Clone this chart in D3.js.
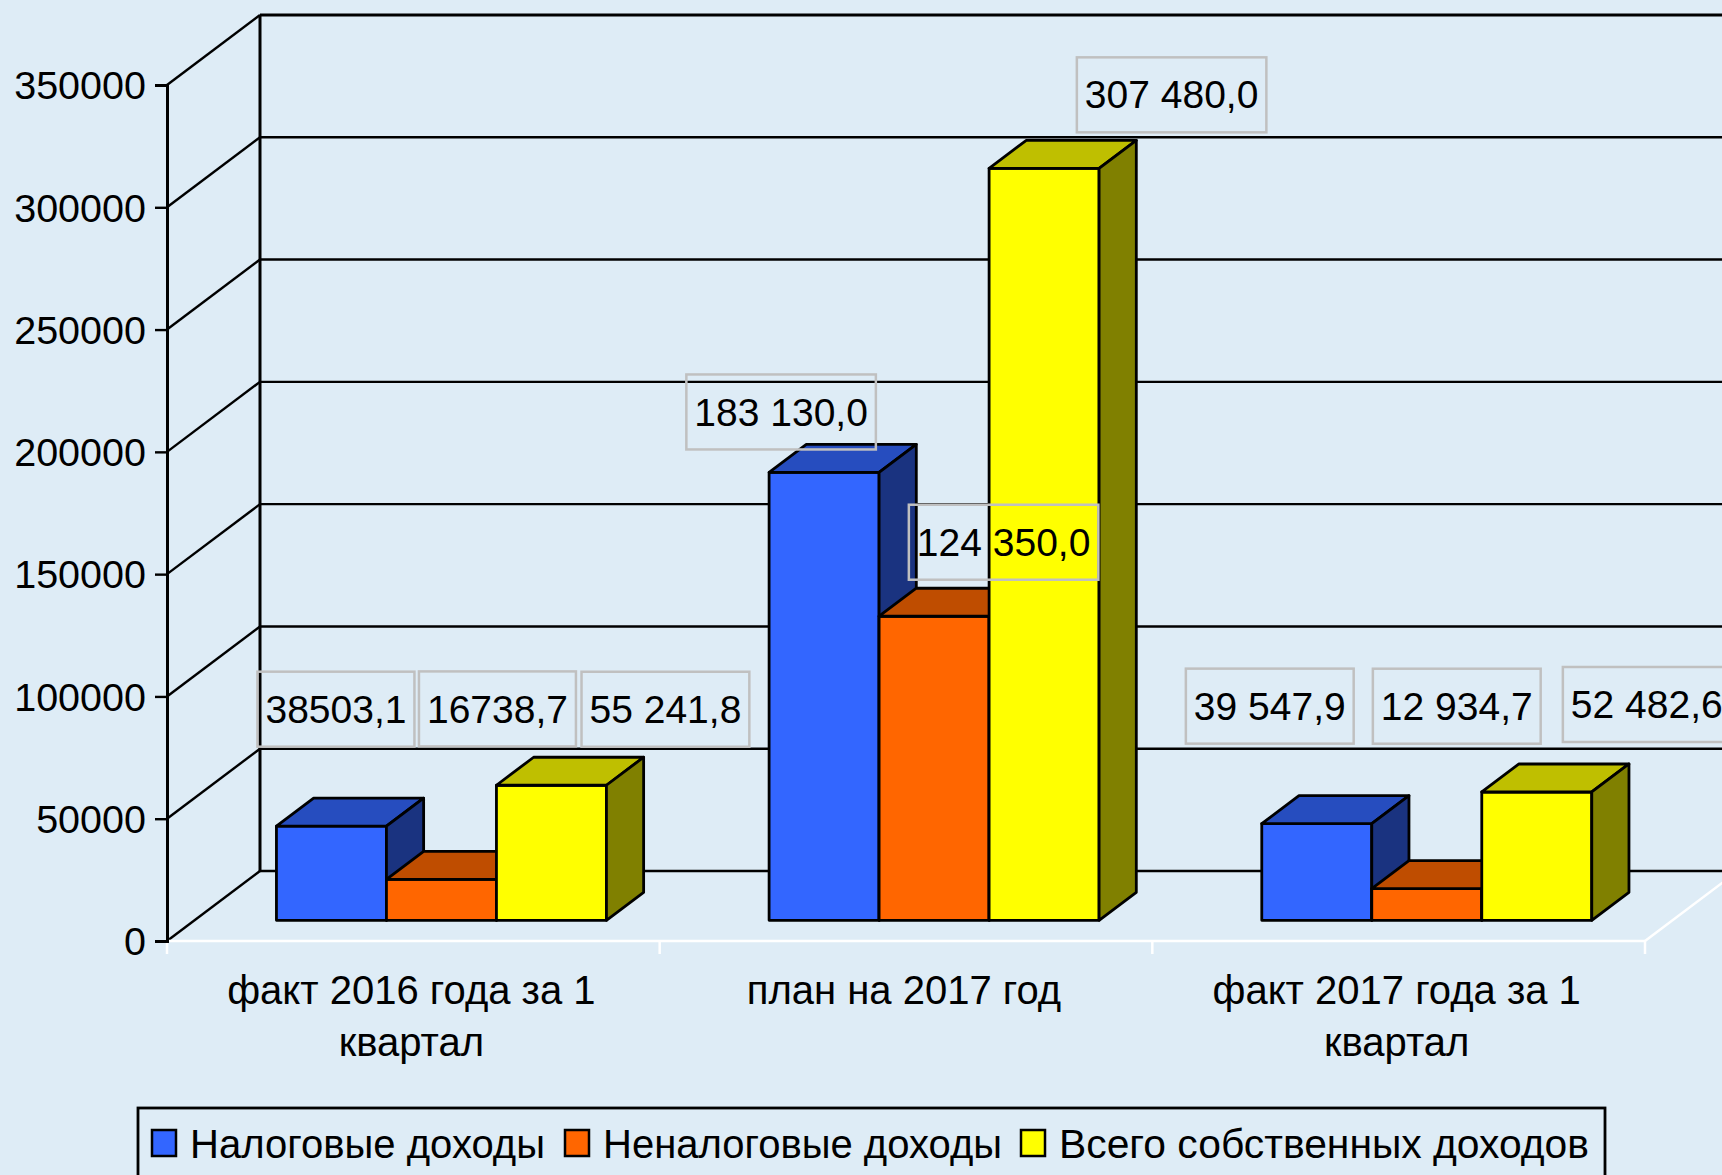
<!DOCTYPE html>
<html>
<head>
<meta charset="utf-8">
<script src="https://d3js.org/d3.v7.min.js"></script>
<style>
  html, body { margin: 0; padding: 0; background: #deecf6; overflow: hidden; }
  svg { display: block; font-family: "Liberation Sans", Arial, sans-serif; }
  text { fill: #000; }
</style>
</head>
<body>
<svg class="chart" width="1722" height="1175"></svg>
<script>
// chart data
var categories = ["факт 2016 года за 1 квартал", "план на 2017 год", "факт 2017 года за 1 квартал"];
var seriesNames = ["Налоговые доходы", "Неналоговые доходы", "Всего собственных доходов"];
var taxIncome = [38503.1, 183130.0, 39547.9];
var nonTaxIncome = [16738.7, 124350.0, 12934.7];
var totalIncome = [55241.8, 307480.0, 52482.6];
var yTicks = [0, 50000, 100000, 150000, 200000, 250000, 300000, 350000];

// labels are written differently per cell in the original
var taxLabels = ["38503,1", "183 130,0", "39 547,9"];
var nonTaxLabels = ["16738,7", "124 350,0", "12 934,7"];
var totalLabels = ["55 241,8", "307 480,0", "52 482,6"];

var seriesValues = [taxIncome, nonTaxIncome, totalIncome];
var seriesLabels = [taxLabels, nonTaxLabels, totalLabels];

// faces: front, top, side
var faceColors = [
  ["#3366ff", "#264dbf", "#1a3380"],
  ["#ff6600", "#bf4d00", "#803300"],
  ["#ffff00", "#bfbf00", "#808000"]
];

// hand placed label boxes, offset from the top centre of each bar [dx, dy], by series then category
var labelOffsets = [
  [[4.5, -117], [-43, -60.5], [-47, -117.5]],
  [[56, -170.5], [69.5, -74], [30, -182.5]],
  [[114, -76], [127.5, -73.5], [110, -87.5]]
];

var fontSize = 39;
var wideFontSize = 40; // category and legend text runs a bit wider in the original

// scales
var x0 = d3.scaleBand().domain(categories).range([167, 1645]);
var x1 = d3.scaleBand().domain(seriesNames).range([82, 412]);
var y = d3.scaleLinear().domain([0, 350000]).range([941, 85]);

// depth goes from 0 (front of the box) to 1 (back wall)
var depthX = 93, depthY = 70;
var barFront = 0.295, barBack = 0.695;

function project(px, value, depth) {
  return [px + depth * depthX, y(value) - depth * depthY];
}

var xStart = x0.range()[0], xEnd = x0.range()[1];
var svg = d3.select(".chart");

// back wall and left wall
var walls = svg.append("g").attr("stroke", "#000").attr("stroke-width", 2.4).attr("fill", "none");

walls.selectAll(".grid")
  .data(yTicks)
  .enter().append("line")
    .attr("class", "grid")
    .attr("x1", project(xStart, 0, 1)[0])
    .attr("x2", project(xEnd, 0, 1)[0])
    .attr("y1", function(d) { return project(xStart, d, 1)[1]; })
    .attr("y2", function(d) { return project(xStart, d, 1)[1]; })
    .attr("stroke-width", function(d) { return d === 350000 ? 3 : 2.4; });

walls.selectAll(".diag")
  .data(yTicks)
  .enter().append("line")
    .attr("class", "diag")
    .attr("x1", xStart)
    .attr("y1", function(d) { return y(d); })
    .attr("x2", project(xStart, 0, 1)[0])
    .attr("y2", function(d) { return project(xStart, d, 1)[1]; });

walls.append("line")
  .attr("x1", project(xStart, 0, 1)[0]).attr("x2", project(xStart, 0, 1)[0])
  .attr("y1", project(xStart, 350000, 1)[1]).attr("y2", project(xStart, 0, 1)[1])
  .attr("stroke-width", 3);

// floor edge is white
var floor = svg.append("g").attr("stroke", "#fff").attr("stroke-width", 2.5).attr("fill", "none");

floor.append("line")
  .attr("x1", xStart).attr("x2", xEnd)
  .attr("y1", y(0)).attr("y2", y(0));

floor.append("line")
  .attr("x1", xEnd).attr("y1", y(0))
  .attr("x2", project(xEnd, 0, 1)[0]).attr("y2", project(xEnd, 0, 1)[1]);

floor.selectAll(".edge")
  .data(categories)
  .enter().append("line")
    .attr("class", "edge")
    .attr("x1", function(d) { return x0(d) + x0.bandwidth(); })
    .attr("x2", function(d) { return x0(d) + x0.bandwidth(); })
    .attr("y1", y(0))
    .attr("y2", y(0) + 13);

floor.append("line")
  .attr("x1", xStart).attr("x2", xStart)
  .attr("y1", y(0)).attr("y2", y(0) + 13);

// y axis
var yAxis = d3.axisLeft(y)
  .tickValues(yTicks)
  .tickFormat(d3.format("d"))
  .tickSize(12)
  .tickPadding(9);

var yAxisG = svg.append("g")
  .attr("transform", "translate(" + xStart + ",0)")
  .call(yAxis);

yAxisG.selectAll("text").style("font-size", "39.5px").style("font-family", "inherit").attr("dy", "0.35em");
yAxisG.selectAll("line").attr("stroke", "#000").attr("stroke-width", 2.4);
yAxisG.select(".domain").attr("stroke", "#000").attr("stroke-width", 3);

// x axis labels
var xAxis = d3.axisBottom(x0).tickSize(0).tickPadding(0);

var xAxisG = svg.append("g")
  .attr("transform", "translate(-2,1004)")
  .call(xAxis);

xAxisG.select(".domain").remove();
xAxisG.selectAll("text")
  .attr("dy", 0)
  .style("font-size", wideFontSize + "px")
  .style("font-family", "inherit")
  .call(wrap, x0.bandwidth());

function wrap(text, width) {
  text.each(function() {
    var t = d3.select(this),
        words = t.text().split(" "),
        line = [],
        tspan = t.text(null).append("tspan").attr("x", 0).attr("y", 0),
        row = 0;
    words.forEach(function(word) {
      line.push(word);
      tspan.text(line.join(" "));
      if (tspan.node().getComputedTextLength() > width && line.length > 1) {
        line.pop();
        tspan.text(line.join(" "));
        line = [word];
        row++;
        tspan = t.append("tspan").attr("x", 0).attr("y", row * 52).text(word);
      }
    });
  });
}

// bars, drawn left to right so that each one covers its neighbour properly
var bars = [];
categories.forEach(function(cat, c) {
  seriesNames.forEach(function(name, s) {
    bars.push({cat: cat, c: c, name: name, s: s, value: seriesValues[s][c]});
  });
});

function pathOf(points) {
  return "M" + points.map(function(p) { return p.join(","); }).join("L") + "Z";
}

var barG = svg.selectAll(".bar")
  .data(bars)
  .enter().append("g")
    .attr("class", "bar")
    .attr("stroke", "#000")
    .attr("stroke-width", 2.8)
    .attr("stroke-linejoin", "round");

barG.append("path")
  .attr("fill", function(d) { return faceColors[d.s][0]; })
  .attr("d", function(d) {
    var l = x0(d.cat) + x1(d.name), r = l + x1.bandwidth();
    return pathOf([project(l, 0, barFront), project(r, 0, barFront), project(r, d.value, barFront), project(l, d.value, barFront)]);
  });

barG.append("path")
  .attr("fill", function(d) { return faceColors[d.s][1]; })
  .attr("d", function(d) {
    var l = x0(d.cat) + x1(d.name), r = l + x1.bandwidth();
    return pathOf([project(l, d.value, barFront), project(r, d.value, barFront), project(r, d.value, barBack), project(l, d.value, barBack)]);
  });

barG.append("path")
  .attr("fill", function(d) { return faceColors[d.s][2]; })
  .attr("d", function(d) {
    var r = x0(d.cat) + x1(d.name) + x1.bandwidth();
    return pathOf([project(r, 0, barFront), project(r, 0, barBack), project(r, d.value, barBack), project(r, d.value, barFront)]);
  });

// value labels with grey boxes
var labelG = svg.selectAll(".label")
  .data(bars)
  .enter().append("g")
    .attr("class", "label")
    .attr("transform", function(d) {
      var off = labelOffsets[d.s][d.c];
      var p = project(x0(d.cat) + x1(d.name) + x1.bandwidth() / 2, d.value, barFront);
      return "translate(" + (p[0] + off[0]) + "," + (p[1] + off[1]) + ")";
    });

labelG.append("text")
  .attr("text-anchor", "middle")
  .attr("dy", "0.35em")
  .style("font-size", fontSize + "px")
  .text(function(d) { return seriesLabels[d.s][d.c]; });

labelG.insert("rect", "text")
  .attr("fill", "none")
  .attr("stroke", "#c0c0c0")
  .attr("stroke-width", 2.5)
  .attr("y", -37.5)
  .attr("height", 75)
  .attr("x", function() { return -(this.parentNode.querySelector("text").getComputedTextLength() + 16) / 2; })
  .attr("width", function() { return this.parentNode.querySelector("text").getComputedTextLength() + 16; });

// legend, its bottom edge runs off the page in the original
var legendKeyX = [152, 565, 1021];
var legendTextWidth = [355, 399, 530];
var legend = svg.append("g");

legend.append("rect")
  .attr("x", 138).attr("y", 1108)
  .attr("width", 1467).attr("height", 90)
  .attr("fill", "none")
  .attr("stroke", "#000")
  .attr("stroke-width", 2.8);

var legendItem = legend.selectAll(".item")
  .data(seriesNames)
  .enter().append("g")
    .attr("class", "item")
    .attr("transform", function(d, i) { return "translate(" + legendKeyX[i] + ",1130)"; });

legendItem.append("rect")
  .attr("width", 24).attr("height", 26)
  .attr("fill", function(d, i) { return faceColors[i][0]; })
  .attr("stroke", "#000")
  .attr("stroke-width", 2.5);

legendItem.append("text")
  .attr("x", 38)
  .attr("y", 28)
  .attr("textLength", function(d, i) { return legendTextWidth[i]; })
  .attr("lengthAdjust", "spacingAndGlyphs")
  .style("font-size", wideFontSize + "px")
  .text(function(d) { return d; });
</script>
</body>
</html>
